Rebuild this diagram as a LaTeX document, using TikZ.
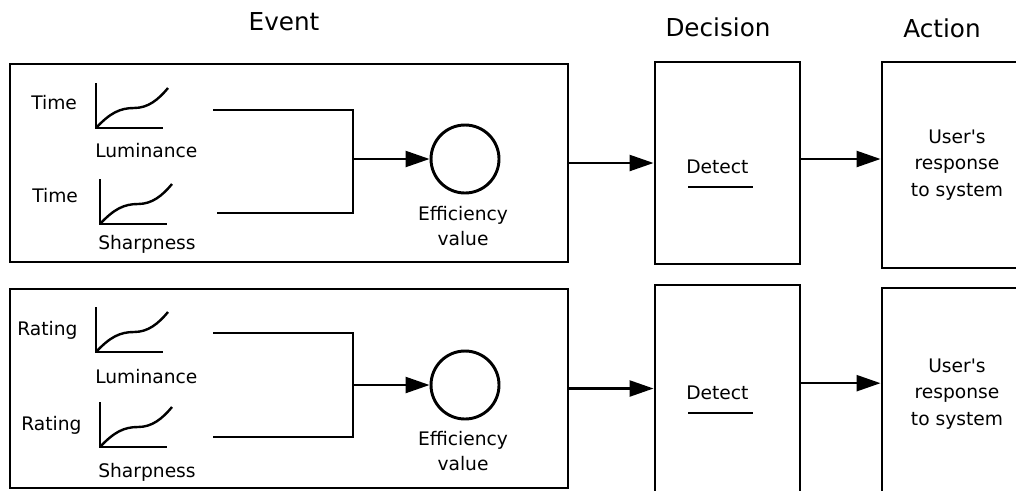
\documentclass[tikz,border=0pt]{standalone}
\usepackage{fontspec}
\newfontfamily\dejavu{DejaVu Sans}
\usepackage{tikz}
\usetikzlibrary{arrows.meta}

\tikzset{
  box/.style={shape=rectangle,draw,line width=2.2pt,inner sep=0pt},
  title/.style={font=\dejavu\fontsize{18.5}{22}\selectfont,inner sep=0pt},
  lbl/.style={font=\dejavu\fontsize{14}{16}\selectfont,inner sep=0pt},
  arr/.style={-{Triangle[length=18pt,width=12pt]},line width=1.8pt},
  ln/.style={line width=1.8pt},
}
\newcommand\smallplot[2]{%
  \begin{scope}[shift={(#1,#2)}]
  \draw[ln] (0,-45) -- (0,0) -- (67,0);
  \draw[ln] (0,0) .. controls (14,-15) and (24,-20) .. (38,-20) .. controls (52,-20) and (62,-28) .. (72,-40);
  \end{scope}}

\begin{document}
\begin{tikzpicture}[x=0.75pt,y=-0.75pt]
\useasboundingbox (0,0) rectangle (1016,490);
\clip (0,0) rectangle (1016,490);

% titles
\node (tev) at (284,30) [title,anchor=base] {Event};
\node (tdec) at (718,36) [title,anchor=base] {Decision};
\node (tact) at (942,37) [title,anchor=base] {Action};

% top row
\node (ev1) at (289,163) [box,minimum width=418.5pt,minimum height=148.5pt] {};
\node (dec1) at (727.5,163) [box,minimum width=108.75pt,minimum height=151.5pt] {};
\node (act1) at (957,165) [box,minimum width=112.5pt,minimum height=154.5pt,align=center,font=\dejavu\fontsize{14}{20}\selectfont] {User's\\response\\to system};

\node (t1) at (31,109) [lbl,anchor=base west] {Time};
\smallplot{96}{128}
\node (lum1) at (95,157) [lbl,anchor=base west] {Luminance};
\node (t2) at (32,202) [lbl,anchor=base west] {Time};
\smallplot{100}{224}
\node (sh1) at (98,249) [lbl,anchor=base west] {Sharpness};

\coordinate (a1) at (213,110);
\coordinate (b1) at (353,110);
\coordinate (c1) at (217,213);
\coordinate (d1) at (353,213);
\coordinate (j1) at (353,159);
\draw[ln] (a1) -- (b1) -- (d1) -- (c1);

\node (eff1) at (465,159) [shape=circle,draw,line width=2.2pt,minimum size=51pt] {};
\node (effl1) at (463,220) [lbl,anchor=base] {Efficiency};
\node (val1) at (463,245) [lbl,anchor=base] {value};
\draw[arr] (j1) -- (eff1);

\node (det1) at (686,173) [lbl,anchor=base west] {Detect};
\draw[line width=0.8pt] (688,187) -- (753,187);

\draw[arr] (ev1.east) -- (ev1.east -| dec1.west);
\draw[arr] ([yshift=3pt]dec1.east) -- ([yshift=3pt]dec1.east -| act1.west);

% bottom row
\node (ev2) at (289,388.5) [box,minimum width=418.5pt,minimum height=149.25pt] {};
\node (dec2) at (727.5,392.5) [box,minimum width=108.75pt,minimum height=161.25pt] {};
\node (act2) at (957,394) [box,minimum width=112.5pt,minimum height=159pt,align=center,font=\dejavu\fontsize{14}{20}\selectfont] {User's\\response\\to system};

\node (r1) at (17,335) [lbl,anchor=base west] {Rating};
\smallplot{96}{352}
\node (lum2) at (95,383) [lbl,anchor=base west] {Luminance};
\node (r2) at (21,430) [lbl,anchor=base west] {Rating};
\smallplot{100}{447}
\node (sh2) at (98,477) [lbl,anchor=base west] {Sharpness};

\coordinate (a2) at (213,333);
\coordinate (b2) at (353,333);
\coordinate (c2) at (213,437);
\coordinate (d2) at (353,437);
\coordinate (j2) at (353,385);
\draw[ln] (a2) -- (b2) -- (d2) -- (c2);

\node (eff2) at (465,385) [shape=circle,draw,line width=2.2pt,minimum size=51pt] {};
\node (effl2) at (463,445) [lbl,anchor=base] {Efficiency};
\node (val2) at (463,470) [lbl,anchor=base] {value};
\draw[arr] (j2) -- (eff2);

\node (det2) at (686,399) [lbl,anchor=base west] {Detect};
\draw[line width=0.8pt] (688,413) -- (753,413);

\draw[arr] (ev2.east) -- (ev2.east -| dec2.west);
\draw[arr] ([yshift=7pt]dec2.east) -- ([yshift=7pt]dec2.east -| act2.west);
\end{tikzpicture}
\end{document}
